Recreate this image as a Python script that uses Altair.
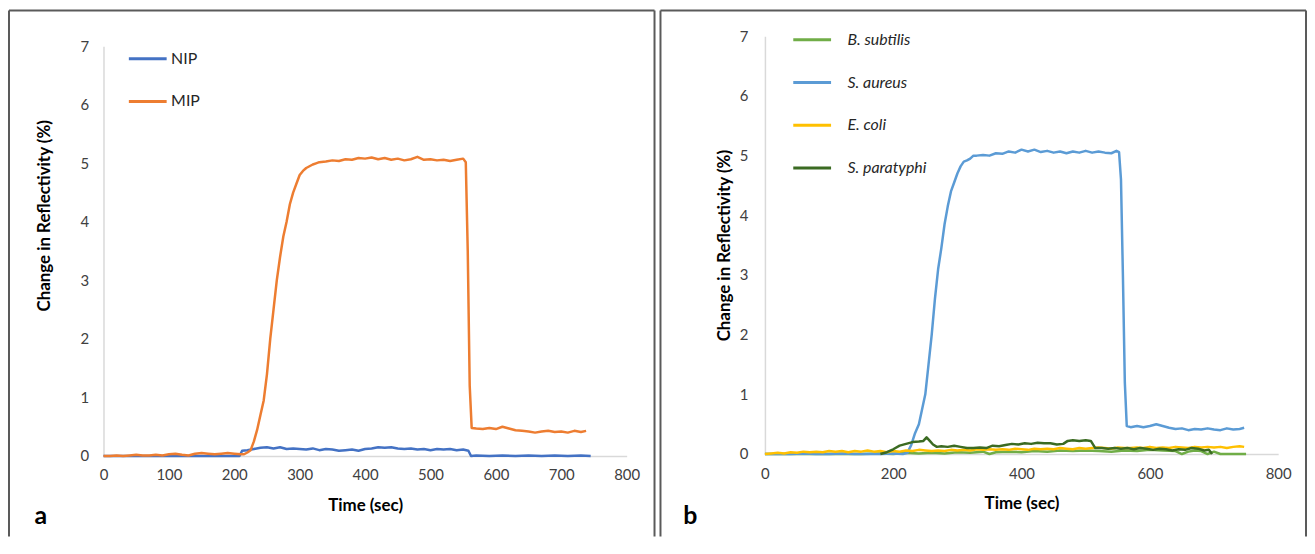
import altair as alt
import pandas as pd

FONT = "Lato"

# ---------------- Panel a data (time sec, change %) ----------------
nip = [(0,0.0),(20,0.0),(40,0.0),(60,0.0),(80,0.0),(100,0.0),(120,0.0),(140,0.0),(160,0.0),(180,0.0),(200,0.0),
       (208,0.0),(212,0.09),(220,0.1),(230,0.12),(240,0.14),(250,0.15),(260,0.13),(270,0.15),(280,0.12),(290,0.13),
       (300,0.12),(310,0.11),(320,0.13),(330,0.1),(340,0.12),(350,0.11),(360,0.09),(370,0.1),(380,0.11),(390,0.09),
       (400,0.12),(410,0.13),(420,0.15),(430,0.14),(440,0.15),(450,0.13),(460,0.12),(470,0.13),(480,0.11),(490,0.12),
       (500,0.1),(510,0.12),(520,0.11),(530,0.12),(540,0.1),(550,0.11),(558,0.09),(562,0.0),(570,0.01),(590,0.0),
       (610,0.01),(630,0.0),(650,0.01),(670,0.0),(690,0.01),(710,0.0),(730,0.01),(745,0.0)]

mip = [(0,0.0),(10,0.0),(20,0.01),(30,0.0),(40,0.01),(50,0.02),(60,0.01),(70,0.01),(80,0.02),(90,0.01),(100,0.03),
       (110,0.04),(120,0.02),(130,0.01),(140,0.04),(150,0.05),(160,0.04),(170,0.03),(180,0.04),(190,0.05),(200,0.04),
       (210,0.03),(215,0.03),(220,0.06),(225,0.1),(230,0.25),(235,0.45),(240,0.7),(245,0.95),(250,1.4),(255,2.0),
       (260,2.5),(265,3.0),(270,3.4),(275,3.75),(280,4.0),(285,4.3),(290,4.5),(295,4.65),(300,4.8),(305,4.87),
       (310,4.92),(315,4.95),(320,4.98),(325,5.0),(330,5.02),(340,5.03),(350,5.05),(360,5.04),(370,5.07),(380,5.06),
       (390,5.09),(400,5.08),(410,5.1),(420,5.07),(430,5.09),(440,5.06),(450,5.08),(460,5.05),(470,5.07),(480,5.11),
       (490,5.06),(500,5.07),(510,5.05),(520,5.06),(530,5.04),(540,5.06),(550,5.08),(554,5.02),(557,3.5),(560,1.2),
       (563,0.48),(570,0.47),(580,0.46),(590,0.48),(600,0.46),(610,0.5),(620,0.47),(630,0.44),(640,0.43),(650,0.42),
       (660,0.4),(670,0.42),(680,0.43),(690,0.41),(700,0.42),(710,0.4),(720,0.43),(730,0.41),(738,0.43)]

# ---------------- Panel b data ----------------
b_subtilis = [(0,0.0),(50,0.0),(100,0.0),(150,0.0),(180,0.01),(200,0.0),(220,0.02),(240,0.01),(260,0.02),(280,0.01),
              (300,0.03),(320,0.02),(340,0.04),(350,0.0),(360,0.03),(380,0.04),(400,0.03),(420,0.05),(440,0.04),
              (460,0.06),(480,0.05),(500,0.06),(520,0.05),(540,0.04),(560,0.06),(580,0.05),(600,0.07),(620,0.06),
              (640,0.05),(650,0.0),(660,0.04),(670,0.06),(680,0.05),(690,0.0),(700,0.04),(710,0.0),(720,0.0),(750,0.0)]

s_aureus = [(0,0.0),(20,0.0),(40,0.0),(60,0.01),(80,0.0),(100,0.0),(120,0.01),(140,0.0),(160,0.0),(180,0.0),(200,0.01),
            (215,0.0),(222,0.02),(228,0.15),(234,0.35),(240,0.5),(245,0.75),(250,1.0),(255,1.5),(260,2.0),(265,2.6),
            (270,3.1),(275,3.45),(280,3.85),(285,4.15),(290,4.4),(295,4.55),(300,4.7),(305,4.82),(310,4.9),(315,4.92),
            (320,4.95),(325,5.0),(330,5.0),(340,5.01),(350,5.0),(360,5.04),(370,5.03),(380,5.07),(390,5.05),(400,5.1),
            (410,5.07),(420,5.1),(430,5.06),(440,5.08),(450,5.05),(460,5.07),(470,5.04),(480,5.07),(490,5.05),(500,5.08),
            (510,5.05),(520,5.07),(530,5.05),(540,5.04),(548,5.08),(552,5.06),(555,4.6),(558,3.0),(561,1.2),(564,0.47),
            (570,0.45),(580,0.47),(590,0.45),(600,0.47),(610,0.5),(620,0.47),(630,0.44),(640,0.42),(650,0.43),(660,0.4),
            (670,0.42),(680,0.41),(690,0.43),(700,0.41),(710,0.4),(720,0.43),(730,0.41),(740,0.42),(747,0.44)]

e_coli = [(0,0.0),(10,0.01),(20,0.02),(30,0.01),(40,0.03),(50,0.02),(60,0.04),(70,0.03),(80,0.04),(90,0.03),(100,0.05),
          (110,0.04),(120,0.05),(130,0.03),(140,0.05),(150,0.04),(160,0.06),(170,0.04),(180,0.05),(190,0.03),(200,0.05),
          (210,0.04),(220,0.06),(230,0.05),(240,0.07),(250,0.06),(260,0.05),(270,0.06),(280,0.05),(290,0.07),(300,0.06),
          (310,0.07),(320,0.06),(330,0.08),(340,0.07),(350,0.08),(360,0.07),(370,0.08),(380,0.07),(390,0.09),(400,0.08),
          (410,0.07),(420,0.09),(430,0.08),(440,0.09),(450,0.08),(460,0.1),(470,0.09),(480,0.08),(490,0.1),(500,0.09),
          (510,0.1),(520,0.11),(530,0.1),(540,0.09),(550,0.11),(560,0.1),(570,0.1),(580,0.11),(590,0.1),(600,0.12),
          (610,0.1),(620,0.11),(630,0.1),(640,0.12),(650,0.11),(660,0.1),(670,0.12),(680,0.11),(690,0.12),(700,0.11),
          (710,0.12),(720,0.1),(730,0.12),(740,0.13),(747,0.12)]

s_paratyphi = [(180,0.0),(190,0.03),(200,0.08),(210,0.14),(220,0.17),(230,0.2),(240,0.21),(247,0.22),(252,0.28),
               (257,0.22),(262,0.16),(268,0.12),(275,0.13),(285,0.12),(295,0.14),(305,0.12),(315,0.1),(325,0.1),
               (335,0.11),(345,0.1),(355,0.14),(365,0.13),(375,0.15),(385,0.17),(395,0.16),(405,0.18),(415,0.17),
               (425,0.19),(435,0.18),(445,0.18),(455,0.16),(465,0.17),(472,0.22),(480,0.23),(490,0.22),(500,0.23),
               (508,0.22),(515,0.1),(525,0.1),(535,0.09),(545,0.1),(555,0.09),(565,0.1),(575,0.08),(585,0.1),
               (595,0.09),(605,0.07),(615,0.09),(625,0.08),(635,0.06),(645,0.08),(655,0.07),(665,0.1),(675,0.09),
               (685,0.06),(692,0.07),(697,0.0)]

left_names = ["NIP", "MIP"]
left_colors = ["#4472C4", "#ED7D31"]
right_names = ["B. subtilis", "S. aureus", "E. coli", "S. paratyphi"]
right_colors = ["#70AD47", "#5B9BD5", "#FFC000", "#3B6B22"]

y_ticks = [0, 1, 2, 3, 4, 5, 6, 7]
x_ticks_left = [0, 100, 200, 300, 400, 500, 600, 700, 800]
x_ticks_right = [0, 200, 400, 600, 800]


def to_df(series_list, names):
    rows = []
    for name, pts in zip(names, series_list):
        for t, v in pts:
            rows.append({"t": t, "v": v, "s": name})
    return pd.DataFrame(rows)


left_df = to_df([nip, mip], left_names)
right_df = to_df([b_subtilis, s_aureus, e_coli, s_paratyphi], right_names)

one = pd.DataFrame({"k": [0]})
FRAME = "#5a5a5a"


def panel(df, names, colors, xticks, w, h, yrange, fx0, fx1, fy0, fy1, letter, lx, ly,
          ytx, yty, xty, ylpad, xlpad, legx, legy, legoff, italic):
    rules = [
        alt.Chart(one).mark_rule(color=FRAME, strokeWidth=2).encode(
            x=alt.value(fx0), x2=alt.value(fx1), y=alt.value(fy0)),
        alt.Chart(one).mark_rule(color=FRAME, strokeWidth=2).encode(
            x=alt.value(fx0), y=alt.value(fy0), y2=alt.value(fy1)),
        alt.Chart(one).mark_rule(color=FRAME, strokeWidth=2).encode(
            x=alt.value(fx1), y=alt.value(fy0), y2=alt.value(fy1)),
    ]
    lab = alt.Chart(one).mark_text(text=letter, font=FONT, fontSize=25, fontWeight="bold",
                                   color="black", baseline="middle", align="center").encode(
        x=alt.value(lx), y=alt.value(ly))
    lines = alt.Chart(df).mark_line(strokeWidth=2.5, strokeJoin="round").encode(
        x=alt.X("t:Q", scale=alt.Scale(domain=[0, 800], nice=False),
                axis=alt.Axis(values=xticks, title="Time (sec)", titleFont=FONT, titleFontSize=17,
                              titleFontWeight="bold", titleColor="black", titleY=xty,
                              titleBaseline="middle", labelFont=FONT, labelFontSize=15,
                              labelColor="#404040", labelPadding=xlpad, ticks=False, grid=False,
                              domainColor="#d9d9d9", domainWidth=1.5, labelFlush=False)),
        y=alt.Y("v:Q", scale=alt.Scale(domain=[0, 7], nice=False, range=yrange),
                axis=alt.Axis(values=y_ticks, title="Change in Reflectivity (%)", titleFont=FONT,
                              titleFontSize=17, titleFontWeight="bold", titleColor="black",
                              titleX=ytx, titleY=yty, titleBaseline="middle", labelFont=FONT,
                              labelFontSize=15, labelColor="#404040", labelPadding=ylpad,
                              ticks=False, grid=False, domainColor="#d9d9d9", domainWidth=1.5,
                              labelFlush=False)),
        color=alt.Color("s:N", scale=alt.Scale(domain=names, range=colors),
                        legend=alt.Legend(orient="none", legendX=legx, legendY=legy, title=None,
                                          symbolType="stroke", symbolSize=1444, symbolStrokeWidth=3,
                                          labelFont=FONT, labelFontSize=16, labelColor="#262626",
                                          labelFontStyle="italic" if italic else "normal",
                                          labelOffset=legoff, rowPadding=14, padding=0)),
    )
    return alt.layer(*rules, lab, lines).properties(width=w, height=h)


# both plot areas share the same top (page y = 45); right axis starts 10px higher via its range
left = panel(left_df, left_names, left_colors, x_ticks_left, 526, 412, [412, 0],
             -95, 554, -36, 493, "a", -63, 472,
             -59, 170, 50, 15, 12, 24, -8, 3, False)
right = panel(right_df, right_names, right_colors, x_ticks_right, 516, 410, [410, -10],
              -105, 544, -36, 493, "b", -75, 472,
              -41, 200, 50, 17, 13, 27, -27, 15, True)

chart = (alt.hconcat(left, right, spacing=4)
         .resolve_scale(color="independent")
         .properties(padding=0)
         .configure_view(strokeWidth=0))

chart.save("out.html", embed_options={"renderer": "svg", "actions": False})
